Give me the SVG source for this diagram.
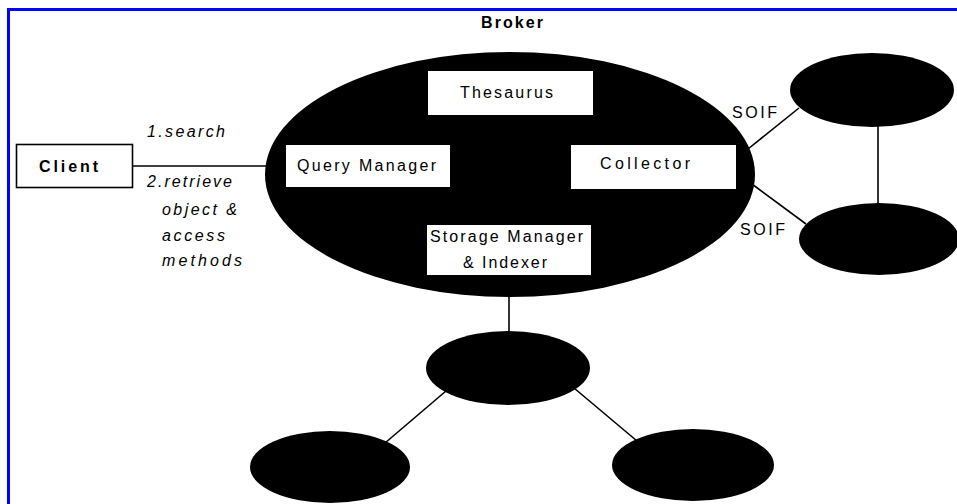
<svg xmlns="http://www.w3.org/2000/svg" width="957" height="504" viewBox="0 0 957 504">
<style>
.t{font-family:"Liberation Sans",Arial,sans-serif;font-size:16px;fill:#000}
.b{font-weight:bold}
.i{font-style:italic}
.box{fill:#fff;stroke:none}
.blob{fill:#000}
.ln{stroke:#000;stroke-width:1.6;fill:none}
</style>
<rect x="0" y="0" width="957" height="504" fill="#fff"/>
<rect x="8.5" y="9.5" width="960" height="510" fill="none" stroke="#0000ff" stroke-width="3"/>
<text class="t b" x="481" y="28" textLength="62" lengthAdjust="spacing">Broker</text>
<g id="connectors">
<line class="ln" x1="133" y1="166" x2="268" y2="166"/>
<line class="ln" x1="748" y1="149" x2="799" y2="108"/>
<line class="ln" x1="752" y1="184" x2="806" y2="224"/>
<line class="ln" x1="878" y1="126" x2="878" y2="204"/>
<line class="ln" x1="509" y1="296" x2="509" y2="333"/>
<line class="ln" x1="446" y1="391" x2="385" y2="443"/>
<line class="ln" x1="574" y1="388" x2="637" y2="441"/>
</g>
<g id="client">
<rect x="16.5" y="144.5" width="116" height="43" fill="#fff" stroke="#000" stroke-width="1.6"/>
<text class="t b" x="39" y="172" textLength="59" lengthAdjust="spacing">Client</text>
</g>
<g id="labels-client">
<text class="t i" x="147" y="137" textLength="78" lengthAdjust="spacing">1.search</text>
<text class="t i" x="147" y="187" textLength="85" lengthAdjust="spacing">2.retrieve</text>
<text class="t i" x="162" y="215" textLength="75" lengthAdjust="spacing">object &amp;</text>
<text class="t i" x="162" y="241" textLength="63" lengthAdjust="spacing">access</text>
<text class="t i" x="162" y="266" textLength="80" lengthAdjust="spacing">methods</text>
</g>
<g id="broker">
<ellipse class="blob" cx="510" cy="174.5" rx="245" ry="122.5"/>
<rect class="box" x="428" y="71" width="165" height="44"/>
<text class="t" x="460" y="98" textLength="93" lengthAdjust="spacing">Thesaurus</text>
<rect class="box" x="286" y="145" width="164" height="42"/>
<text class="t" x="297" y="171" textLength="139" lengthAdjust="spacing">Query Manager</text>
<rect class="box" x="571" y="145" width="165" height="44"/>
<text class="t" x="600" y="169" textLength="90" lengthAdjust="spacing">Collector</text>
<rect class="box" x="427" y="225" width="164" height="50"/>
<text class="t" x="430" y="242" textLength="153" lengthAdjust="spacing">Storage Manager</text>
<text class="t" x="463" y="268" textLength="84" lengthAdjust="spacing">&amp; Indexer</text>
</g>
<g id="soif-labels">
<text class="t" x="732" y="118" textLength="45" lengthAdjust="spacing">SOIF</text>
<text class="t" x="740" y="235" textLength="45" lengthAdjust="spacing">SOIF</text>
</g>
<g id="node-right-top"><ellipse class="blob" cx="872" cy="90" rx="82" ry="37"/></g>
<g id="node-right-bottom"><ellipse class="blob" cx="879" cy="239" rx="80" ry="36"/></g>
<g id="node-center"><ellipse class="blob" cx="508" cy="368" rx="82" ry="37"/></g>
<g id="node-bottom-left"><ellipse class="blob" cx="330" cy="467" rx="80" ry="36"/></g>
<g id="node-bottom-right"><ellipse class="blob" cx="693" cy="465" rx="81" ry="36"/></g>
</svg>
